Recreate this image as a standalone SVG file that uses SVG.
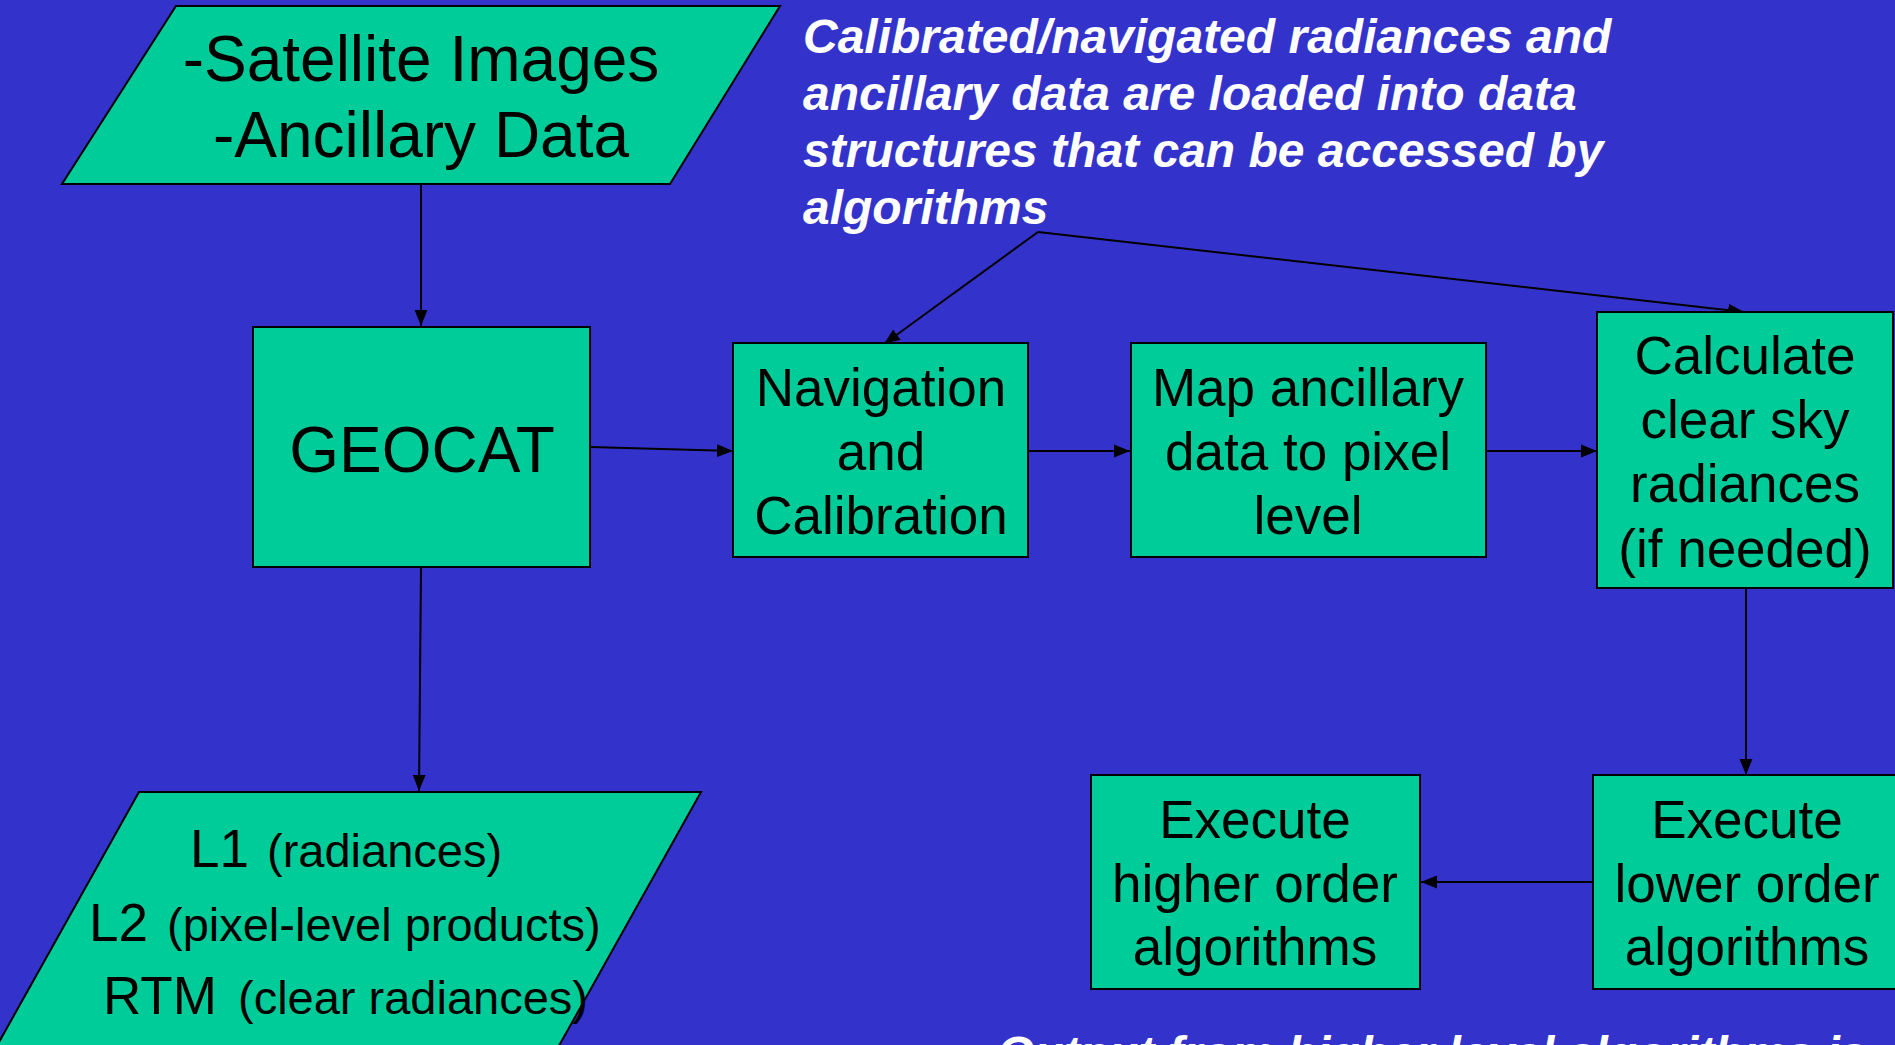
<svg xmlns="http://www.w3.org/2000/svg" width="1895" height="1045" viewBox="0 0 1895 1045">
<defs>
<marker id="ah" viewBox="0 0 10 10" refX="10" refY="5" markerWidth="16" markerHeight="16" markerUnits="userSpaceOnUse" orient="auto">
<path d="M0,1 L10,5 L0,9 z" fill="#000"/>
</marker>
<style>
.box{fill:#00CC99;stroke:#000;stroke-width:2}
.t{font-family:"Liberation Sans",Arial,sans-serif;font-size:53px;fill:#000;text-anchor:middle}
.big{font-family:"Liberation Sans",Arial,sans-serif;font-size:64px;fill:#000;text-anchor:middle}
.l{font-family:"Liberation Sans",Arial,sans-serif;font-size:53px;fill:#000}
.p{font-family:"Liberation Sans",Arial,sans-serif;font-size:47px;fill:#000}
.note{font-family:"Liberation Sans",Arial,sans-serif;font-size:48px;font-weight:bold;font-style:italic;fill:#fff}
.c{fill:none;stroke:#000;stroke-width:2}
</style>
</defs>
<rect x="0" y="0" width="1895" height="1045" fill="#3333CC"/>

<g id="connectors">
<line class="c" x1="421" y1="184" x2="421" y2="326" marker-end="url(#ah)"/>
<line class="c" x1="590" y1="447" x2="733" y2="451" marker-end="url(#ah)"/>
<line class="c" x1="1028" y1="451" x2="1130" y2="451" marker-end="url(#ah)"/>
<line class="c" x1="1486" y1="451" x2="1597" y2="451" marker-end="url(#ah)"/>
<line class="c" x1="1746" y1="588" x2="1746" y2="775" marker-end="url(#ah)"/>
<line class="c" x1="1593" y1="882" x2="1421" y2="882" marker-end="url(#ah)"/>
<line class="c" x1="421" y1="567" x2="419" y2="791" marker-end="url(#ah)"/>
<line class="c" x1="1038" y1="232" x2="884" y2="344" marker-end="url(#ah)"/>
<line class="c" x1="1038" y1="232" x2="1744" y2="312" marker-end="url(#ah)"/>
</g>

<g id="input">
<polygon class="box" points="176,6 780,6 670,184 62,184"/>
<text class="big" x="421" y="81">-Satellite Images</text>
<text class="big" x="421" y="157">-Ancillary Data</text>
</g>

<g id="geocat">
<rect class="box" x="253" y="327" width="337" height="240"/>
<text class="big" x="422" y="472">GEOCAT</text>
</g>

<g id="navcal">
<rect class="box" x="733" y="343" width="295" height="214"/>
<text class="t" x="881" y="406">Navigation</text>
<text class="t" x="881" y="470">and</text>
<text class="t" x="881" y="534">Calibration</text>
</g>

<g id="map">
<rect class="box" x="1131" y="343" width="355" height="214"/>
<text class="t" x="1308" y="406">Map ancillary</text>
<text class="t" x="1308" y="470">data to pixel</text>
<text class="t" x="1308" y="534">level</text>
</g>

<g id="clearsky">
<rect class="box" x="1597" y="312" width="296" height="276"/>
<text class="t" x="1745" y="374">Calculate</text>
<text class="t" x="1745" y="438">clear sky</text>
<text class="t" x="1745" y="502">radiances</text>
<text class="t" x="1745" y="567">(if needed)</text>
</g>

<g id="lower">
<rect class="box" x="1593" y="775" width="310" height="214"/>
<text class="t" x="1747" y="838">Execute</text>
<text class="t" x="1747" y="902">lower order</text>
<text class="t" x="1747" y="965">algorithms</text>
</g>

<g id="higher">
<rect class="box" x="1091" y="775" width="329" height="214"/>
<text class="t" x="1255" y="838">Execute</text>
<text class="t" x="1255" y="902">higher order</text>
<text class="t" x="1255" y="965">algorithms</text>
</g>

<g id="output">
<polygon class="box" points="139,792 701,792 551,1060 -11,1060"/>
<text class="l" x="190" y="867">L1</text>
<text class="p" x="267" y="867">(radiances)</text>
<text class="l" x="89" y="941">L2</text>
<text class="p" x="167" y="941">(pixel-level products)</text>
<text class="l" x="103" y="1014">RTM</text>
<text class="p" x="238" y="1014">(clear radiances)</text>
</g>

<g id="note-top">
<text class="note" x="803" y="53">Calibrated/navigated radiances and</text>
<text class="note" x="803" y="110">ancillary data are loaded into data</text>
<text class="note" x="803" y="167">structures that can be accessed by</text>
<text class="note" x="803" y="224">algorithms</text>
</g>

<g id="note-bottom">
<text class="note" x="997" y="1070">Output from higher level algorithms is</text>
</g>
</svg>
